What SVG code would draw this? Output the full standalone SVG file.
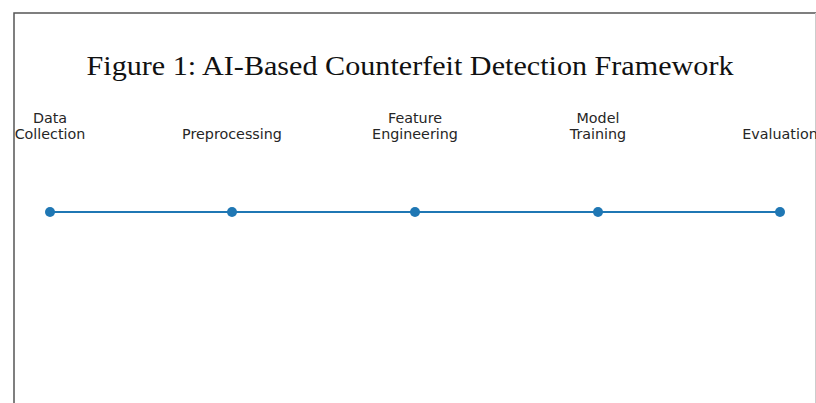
<svg xmlns="http://www.w3.org/2000/svg" width="816" height="403" viewBox="0 0 816 403">
<style>
.lbl{font-family:"DejaVu Sans",sans-serif;font-size:14.3px;fill:#262626;text-anchor:middle}
.dot{fill:#1f77b4}
</style>
<rect x="0" y="0" width="816" height="403" fill="#fff"/>
<rect x="14" y="13" width="820" height="420" fill="#fff" stroke="#555" stroke-width="1.5"/>
<line x1="815.5" y1="13" x2="815.5" y2="403" stroke="#ccc" stroke-width="1"/>
<text x="410" y="75" font-family="Liberation Serif, serif" font-size="28" fill="#111" text-anchor="middle" textLength="647" lengthAdjust="spacingAndGlyphs">Figure 1: AI-Based Counterfeit Detection Framework</text>
<g id="connectors">
<line x1="50" y1="212" x2="780" y2="212" stroke="#1f77b4" stroke-width="2"/>
</g>
<g id="n1"><circle class="dot" cx="50" cy="212" r="5"/><text class="lbl" x="50" y="123">Data</text><text class="lbl" x="50" y="139">Collection</text></g>
<g id="n2"><circle class="dot" cx="232" cy="212" r="5"/><text class="lbl" x="232" y="139">Preprocessing</text></g>
<g id="n3"><circle class="dot" cx="415" cy="212" r="5"/><text class="lbl" x="415" y="123">Feature</text><text class="lbl" x="415" y="139">Engineering</text></g>
<g id="n4"><circle class="dot" cx="598" cy="212" r="5"/><text class="lbl" x="598" y="123">Model</text><text class="lbl" x="598" y="139">Training</text></g>
<g id="n5"><circle class="dot" cx="780" cy="212" r="5"/><text class="lbl" x="780" y="139">Evaluation</text></g>
</svg>
